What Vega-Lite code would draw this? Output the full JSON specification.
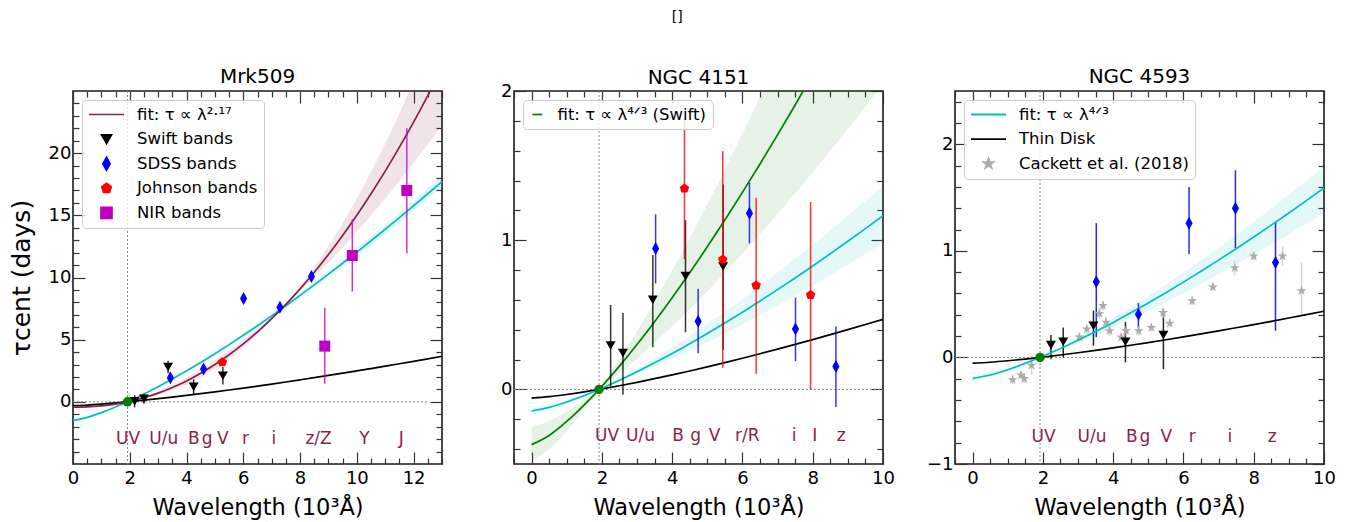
{
  "$schema": "https://vega.github.io/schema/vega-lite/v6.json",
  "title": {"text": "[]", "fontSize": 14, "offset": 29, "anchor": "middle", "dx": 5, "baseline": "bottom"},
  "padding": {"left": 8, "top": 9, "right": 5, "bottom": 5},
  "spacing": 72,
  "bounds": "flush",
  "resolve": {"scale": {"color": "independent", "fill": "independent", "stroke": "independent", "shape": "independent", "size": "independent"}, "legend": {"color": "independent", "fill": "independent", "stroke": "independent", "shape": "independent", "size": "independent"}},
  "config": {
    "font": "DejaVu Sans",
    "view": {"stroke": "#1a1a1a", "strokeWidth": 1.6},
    "axis": {"domain": false, "grid": false, "labelFont": "DejaVu Sans", "labelFontSize": 18, "labelColor": "#000000", "tickColor": "#333333", "tickWidth": 1.2, "labelOverlap": false, "labelFlush": false, "labelBound": false, "titleFont": "DejaVu Sans", "titleFontWeight": "normal", "titleColor": "#000000"},
    "title": {"font": "DejaVu Sans", "fontSize": 20, "fontWeight": "normal", "color": "#000000", "offset": 3, "baseline": "alphabetic"},
    "legend": {"orient": "top-left", "offset": 9, "padding": 6, "fillColor": "rgba(255,255,255,0.8)", "strokeColor": "#cccccc", "cornerRadius": 4, "labelFont": "DejaVu Sans", "labelFontSize": 16.5, "labelColor": "#000000", "labelLimit": 400, "rowPadding": 7.6, "labelOffset": 12, "clipHeight": 17, "symbolStrokeWidth": 1.8},
    "line": {"strokeWidth": 1.7, "interpolate": "monotone"},
    "area": {"interpolate": "monotone"}
  },
  "datasets": {
    "c1": [
      {"x":0,"m":-0.43,"m1":-0.46,"m2":-0.40,"c":-1.5,"c1":-1.46,"c2":-1.54,"t":-0.31},
      {"x":0.5,"m":-0.407,"m1":-0.437,"m2":-0.377,"c":-1.2506,"c1":-1.2172,"c2":-1.2839,"t":-0.2584},
      {"x":1,"m":-0.326,"m1":-0.356,"m2":-0.296,"c":-0.8714,"c1":-0.8481,"c2":-0.8946,"t":-0.1801},
      {"x":1.5,"m":-0.178,"m1":-0.198,"m2":-0.158,"c":-0.4208,"c1":-0.4095,"c2":-0.432,"t":-0.087},
      {"x":2,"m":0.04,"m1":0.02,"m2":0.06,"c":0.0839,"c1":0.0816,"c2":0.0861,"t":0.0173},
      {"x":2.5,"m":0.333,"m1":0.253,"m2":0.413,"c":0.6329,"c1":0.616,"c2":0.6497,"t":0.1308},
      {"x":3,"m":0.703,"m1":0.553,"m2":0.853,"c":1.22,"c1":1.1874,"c2":1.2525,"t":0.2521},
      {"x":3.5,"m":1.152,"m1":0.932,"m2":1.372,"c":1.8401,"c1":1.791,"c2":1.8891,"t":0.3803},
      {"x":4,"m":1.684,"m1":1.404,"m2":1.964,"c":2.4915,"c1":2.4251,"c2":2.5579,"t":0.5149},
      {"x":4.5,"m":2.301,"m1":1.981,"m2":2.621,"c":3.1701,"c1":3.0856,"c2":3.2546,"t":0.6552},
      {"x":5,"m":3.001,"m1":2.651,"m2":3.351,"c":3.8744,"c1":3.771,"c2":3.9777,"t":0.8007},
      {"x":5.5,"m":3.79,"m1":3.45,"m2":4.13,"c":4.6025,"c1":4.4797,"c2":4.7252,"t":0.9512},
      {"x":6,"m":4.667,"m1":4.367,"m2":4.967,"c":5.3531,"c1":5.2103,"c2":5.4958,"t":1.1063},
      {"x":6.5,"m":5.634,"m1":5.394,"m2":5.874,"c":6.1253,"c1":5.9619,"c2":6.2886,"t":1.2659},
      {"x":7,"m":6.693,"m1":6.553,"m2":6.833,"c":6.9176,"c1":6.7331,"c2":7.102,"t":1.4296},
      {"x":7.5,"m":7.843,"m1":7.793,"m2":7.893,"c":7.7291,"c1":7.5229,"c2":7.9352,"t":1.5973},
      {"x":8,"m":9.086,"m1":8.906,"m2":9.266,"c":8.5577,"c1":8.3294,"c2":8.7859,"t":1.7686},
      {"x":8.5,"m":10.42,"m1":10.02,"m2":10.82,"c":9.404,"c1":9.1532,"c2":9.6547,"t":1.9435},
      {"x":9,"m":11.855,"m1":11.185,"m2":12.525,"c":10.268,"c1":9.9943,"c2":10.542,"t":2.1221},
      {"x":9.5,"m":13.386,"m1":12.406,"m2":14.366,"c":11.148,"c1":10.851,"c2":11.445,"t":2.3039},
      {"x":10,"m":15.01,"m1":13.67,"m2":16.35,"c":12.043,"c1":11.722,"c2":12.364,"t":2.4889},
      {"x":10.5,"m":16.74,"m1":14.99,"m2":18.49,"c":12.954,"c1":12.609,"c2":13.299,"t":2.6772},
      {"x":11,"m":18.56,"m1":16.36,"m2":20.76,"c":13.878,"c1":13.508,"c2":14.248,"t":2.8681},
      {"x":11.5,"m":20.49,"m1":17.78,"m2":23.2,"c":14.819,"c1":14.423,"c2":15.214,"t":3.0625},
      {"x":12,"m":22.5,"m1":19.22,"m2":25.78,"c":15.77,"c1":15.349,"c2":16.19,"t":3.259},
      {"x":12.5,"m":24.62,"m1":20.72,"m2":28.52,"c":16.736,"c1":16.289,"c2":17.182,"t":3.4587},
      {"x":13,"m":26.85,"m1":22.27,"m2":31.43,"c":17.714,"c1":17.241,"c2":18.186,"t":3.6608}
    ],
    "c2": [
      {"x":0,"g":-0.37,"g1":-0.255,"g2":-0.48,"c":-0.145,"c1":-0.122,"c2":-0.17,"t":-0.0585},
      {"x":0.5,"g":-0.3085,"g1":-0.2126,"g2":-0.4002,"c":-0.1209,"c1":-0.1017,"c2":-0.1417,"t":-0.0488},
      {"x":1,"g":-0.2149,"g1":-0.1481,"g2":-0.2788,"c":-0.0842,"c1":-0.0709,"c2":-0.0988,"t":-0.034},
      {"x":1.5,"g":-0.1038,"g1":-0.0715,"g2":-0.1346,"c":-0.0407,"c1":-0.0342,"c2":-0.0477,"t":-0.0164},
      {"x":2,"g":0.0207,"g1":0.0143,"g2":0.0268,"c":0.0081,"c1":0.0068,"c2":0.0095,"t":0.0033},
      {"x":2.5,"g":0.1561,"g1":0.1076,"g2":0.2025,"c":0.0612,"c1":0.0515,"c2":0.0717,"t":0.0247},
      {"x":3,"g":0.3009,"g1":0.2074,"g2":0.3904,"c":0.1179,"c1":0.0992,"c2":0.1383,"t":0.0476},
      {"x":3.5,"g":0.4539,"g1":0.3128,"g2":0.5888,"c":0.1779,"c1":0.1497,"c2":0.2085,"t":0.0718},
      {"x":4,"g":0.6146,"g1":0.4236,"g2":0.7973,"c":0.2408,"c1":0.2026,"c2":0.2824,"t":0.0972},
      {"x":4.5,"g":0.782,"g1":0.5389,"g2":1.0144,"c":0.3064,"c1":0.2578,"c2":0.3593,"t":0.1236},
      {"x":5,"g":0.9557,"g1":0.6586,"g2":1.2398,"c":0.3745,"c1":0.3151,"c2":0.4391,"t":0.1511},
      {"x":5.5,"g":1.1353,"g1":0.7824,"g2":1.4728,"c":0.4449,"c1":0.3743,"c2":0.5216,"t":0.1795},
      {"x":6,"g":1.3204,"g1":0.91,"g2":1.713,"c":0.5175,"c1":0.4354,"c2":0.6067,"t":0.2088},
      {"x":6.5,"g":1.5109,"g1":1.0413,"g2":1.9601,"c":0.5921,"c1":0.4982,"c2":0.6942,"t":0.2389},
      {"x":7,"g":1.7063,"g1":1.176,"g2":2.2136,"c":0.6687,"c1":0.5626,"c2":0.784,"t":0.2698},
      {"x":7.5,"g":1.9065,"g1":1.3139,"g2":2.4733,"c":0.7471,"c1":0.6286,"c2":0.876,"t":0.3014},
      {"x":8,"g":2.1109,"g1":1.4548,"g2":2.7384,"c":0.8272,"c1":0.696,"c2":0.9699,"t":0.3337},
      {"x":8.5,"g":2.3196,"g1":1.5987,"g2":3.0093,"c":0.909,"c1":0.7649,"c2":1.0658,"t":0.3668},
      {"x":9,"g":2.5328,"g1":1.7456,"g2":3.2858,"c":0.9926,"c1":0.8351,"c2":1.1637,"t":0.4005},
      {"x":9.5,"g":2.7498,"g1":1.8952,"g2":3.5674,"c":1.0776,"c1":0.9067,"c2":1.2634,"t":0.4348},
      {"x":10,"g":2.9706,"g1":2.0473,"g2":3.8538,"c":1.1642,"c1":0.9795,"c2":1.3649,"t":0.4697}
    ],
    "c3": [
      {"x":0,"c":-0.198,"c1":-0.169,"c2":-0.223,"t":-0.054},
      {"x":0.5,"c":-0.1651,"c1":-0.1409,"c2":-0.1859,"t":-0.045},
      {"x":1,"c":-0.115,"c1":-0.0982,"c2":-0.1295,"t":-0.0314},
      {"x":1.5,"c":-0.0555,"c1":-0.0474,"c2":-0.0626,"t":-0.0151},
      {"x":2,"c":0.0111,"c1":0.0094,"c2":0.0125,"t":0.003},
      {"x":2.5,"c":0.0835,"c1":0.0713,"c2":0.0941,"t":0.0228},
      {"x":3,"c":0.161,"c1":0.1374,"c2":0.1814,"t":0.0439},
      {"x":3.5,"c":0.2429,"c1":0.2073,"c2":0.2736,"t":0.0662},
      {"x":4,"c":0.3289,"c1":0.2807,"c2":0.3704,"t":0.0897},
      {"x":4.5,"c":0.4185,"c1":0.3572,"c2":0.4713,"t":0.1141},
      {"x":5,"c":0.5114,"c1":0.4365,"c2":0.576,"t":0.1395},
      {"x":5.5,"c":0.6075,"c1":0.5185,"c2":0.6842,"t":0.1657},
      {"x":6,"c":0.7066,"c1":0.6031,"c2":0.7958,"t":0.1927},
      {"x":6.5,"c":0.8085,"c1":0.6901,"c2":0.9106,"t":0.2205},
      {"x":7,"c":0.9131,"c1":0.7794,"c2":1.0284,"t":0.249},
      {"x":7.5,"c":1.0202,"c1":0.8708,"c2":1.1491,"t":0.2782},
      {"x":8,"c":1.1296,"c1":0.9642,"c2":1.2722,"t":0.3081},
      {"x":8.5,"c":1.2413,"c1":1.0595,"c2":1.3981,"t":0.3385},
      {"x":9,"c":1.3554,"c1":1.1569,"c2":1.5265,"t":0.3697},
      {"x":9.5,"c":1.4715,"c1":1.256,"c2":1.6573,"t":0.4013},
      {"x":10,"c":1.5897,"c1":1.3569,"c2":1.7904,"t":0.4335}
    ],
    "p1": [
      {"x":1.92,"y":0,"s":"ref"},
      {"x":2.17,"y":0.05,"lo":-0.45,"hi":0.55,"s":"Swift bands"},
      {"x":2.5,"y":0.25,"lo":-0.15,"hi":0.65,"s":"Swift bands"},
      {"x":3.35,"y":2.8,"lo":2.3,"hi":3.3,"s":"Swift bands"},
      {"x":4.25,"y":1.2,"lo":0.6,"hi":1.8,"s":"Swift bands"},
      {"x":5.28,"y":2.1,"lo":1.4,"hi":2.8,"s":"Swift bands"},
      {"x":3.43,"y":1.93,"lo":1.6,"hi":2.26,"s":"SDSS bands"},
      {"x":4.6,"y":2.65,"lo":2.3,"hi":3.0,"s":"SDSS bands"},
      {"x":6.01,"y":8.31,"lo":7.95,"hi":8.67,"s":"SDSS bands"},
      {"x":7.29,"y":7.61,"lo":7.25,"hi":7.97,"s":"SDSS bands"},
      {"x":8.4,"y":10.08,"lo":9.7,"hi":10.46,"s":"SDSS bands"},
      {"x":5.26,"y":3.19,"lo":2.9,"hi":3.48,"s":"Johnson bands"},
      {"x":8.87,"y":4.48,"lo":1.45,"hi":7.56,"s":"NIR bands"},
      {"x":9.84,"y":11.77,"lo":8.87,"hi":14.66,"s":"NIR bands"},
      {"x":11.76,"y":17.0,"lo":11.96,"hi":22.01,"s":"NIR bands"}
    ],
    "p2": [
      {"x":1.92,"y":0,"s":"ref"},
      {"x":2.25,"y":0.294,"lo":0.02,"hi":0.566,"s":"Swift bands"},
      {"x":2.6,"y":0.243,"lo":-0.036,"hi":0.512,"s":"Swift bands"},
      {"x":3.45,"y":0.6,"lo":0.283,"hi":0.9,"s":"Swift bands"},
      {"x":4.38,"y":0.76,"lo":0.383,"hi":1.134,"s":"Swift bands"},
      {"x":5.45,"y":0.824,"lo":0.265,"hi":1.374,"s":"Swift bands"},
      {"x":3.53,"y":0.944,"lo":0.71,"hi":1.174,"s":"SDSS bands"},
      {"x":4.74,"y":0.457,"lo":0.243,"hi":0.673,"s":"SDSS bands"},
      {"x":6.2,"y":1.18,"lo":0.978,"hi":1.385,"s":"SDSS bands"},
      {"x":7.51,"y":0.405,"lo":0.19,"hi":0.615,"s":"SDSS bands"},
      {"x":8.66,"y":0.154,"lo":-0.118,"hi":0.421,"s":"SDSS bands"},
      {"x":4.35,"y":1.347,"lo":0.873,"hi":1.82,"s":"Johnson bands"},
      {"x":5.44,"y":0.871,"lo":0.145,"hi":1.597,"s":"Johnson bands"},
      {"x":6.39,"y":0.697,"lo":0.105,"hi":1.285,"s":"Johnson bands"},
      {"x":7.94,"y":0.633,"lo":0.0,"hi":1.256,"s":"Johnson bands"}
    ],
    "p3": [
      {"x":1.92,"y":0,"s":"ref"},
      {"x":2.23,"y":0.116,"lo":-0.016,"hi":0.21,"s":"Swift bands"},
      {"x":2.58,"y":0.147,"lo":0.0,"hi":0.28,"s":"Swift bands"},
      {"x":3.44,"y":0.297,"lo":0.11,"hi":0.44,"s":"Swift bands"},
      {"x":4.35,"y":0.147,"lo":-0.047,"hi":0.334,"s":"Swift bands"},
      {"x":5.43,"y":0.21,"lo":-0.11,"hi":0.453,"s":"Swift bands"},
      {"x":3.52,"y":0.71,"lo":0.19,"hi":1.26,"s":"SDSS bands"},
      {"x":4.72,"y":0.406,"lo":0.27,"hi":0.51,"s":"SDSS bands"},
      {"x":6.16,"y":1.26,"lo":0.97,"hi":1.6,"s":"SDSS bands"},
      {"x":7.48,"y":1.4,"lo":1.025,"hi":1.756,"s":"SDSS bands"},
      {"x":8.62,"y":0.89,"lo":0.25,"hi":1.275,"s":"SDSS bands"},
      {"x":1.14,"y":-0.21,"lo":-0.25,"hi":-0.17,"s":"Cackett et al. (2018)"},
      {"x":1.38,"y":-0.165,"lo":-0.2,"hi":-0.13,"s":"Cackett et al. (2018)"},
      {"x":1.47,"y":-0.2,"lo":-0.24,"hi":-0.16,"s":"Cackett et al. (2018)"},
      {"x":1.68,"y":-0.075,"lo":-0.165,"hi":0.015,"s":"Cackett et al. (2018)"},
      {"x":3.04,"y":0.19,"lo":0.15,"hi":0.23,"s":"Cackett et al. (2018)"},
      {"x":3.25,"y":0.266,"lo":0.22,"hi":0.31,"s":"Cackett et al. (2018)"},
      {"x":3.61,"y":0.41,"lo":0.36,"hi":0.46,"s":"Cackett et al. (2018)"},
      {"x":3.71,"y":0.485,"lo":0.44,"hi":0.53,"s":"Cackett et al. (2018)"},
      {"x":3.8,"y":0.33,"lo":0.28,"hi":0.38,"s":"Cackett et al. (2018)"},
      {"x":3.9,"y":0.25,"lo":0.2,"hi":0.3,"s":"Cackett et al. (2018)"},
      {"x":4.23,"y":0.19,"lo":0.15,"hi":0.23,"s":"Cackett et al. (2018)"},
      {"x":4.37,"y":0.25,"lo":0.21,"hi":0.29,"s":"Cackett et al. (2018)"},
      {"x":4.73,"y":0.25,"lo":0.21,"hi":0.29,"s":"Cackett et al. (2018)"},
      {"x":5.09,"y":0.28,"lo":0.24,"hi":0.32,"s":"Cackett et al. (2018)"},
      {"x":5.42,"y":0.42,"lo":0.37,"hi":0.47,"s":"Cackett et al. (2018)"},
      {"x":5.61,"y":0.32,"lo":0.28,"hi":0.36,"s":"Cackett et al. (2018)"},
      {"x":6.25,"y":0.53,"lo":0.49,"hi":0.57,"s":"Cackett et al. (2018)"},
      {"x":6.84,"y":0.66,"lo":0.62,"hi":0.7,"s":"Cackett et al. (2018)"},
      {"x":7.46,"y":0.84,"lo":0.77,"hi":0.91,"s":"Cackett et al. (2018)"},
      {"x":8.0,"y":0.95,"lo":0.91,"hi":0.99,"s":"Cackett et al. (2018)"},
      {"x":8.82,"y":0.95,"lo":0.86,"hi":1.04,"s":"Cackett et al. (2018)"},
      {"x":9.36,"y":0.625,"lo":0.39,"hi":0.89,"s":"Cackett et al. (2018)"}
    ],
    "l1": [
      {"x":1.94,"y":-3,"t":"UV"},{"x":3.2,"y":-3,"t":"U/u"},{"x":4.26,"y":-3,"t":"B"},{"x":4.73,"y":-3,"t":"g"},{"x":5.28,"y":-3,"t":"V"},{"x":6.08,"y":-3,"t":"r"},{"x":7.08,"y":-3,"t":"i"},{"x":8.65,"y":-3,"t":"z/Z"},{"x":10.27,"y":-3,"t":"Y"},{"x":11.56,"y":-3,"t":"J"}
    ],
    "l2": [
      {"x":2.15,"y":-0.314,"t":"UV"},{"x":3.1,"y":-0.314,"t":"U/u"},{"x":4.17,"y":-0.314,"t":"B"},{"x":4.67,"y":-0.314,"t":"g"},{"x":5.21,"y":-0.314,"t":"V"},{"x":6.14,"y":-0.314,"t":"r/R"},{"x":7.47,"y":-0.314,"t":"i"},{"x":8.06,"y":-0.314,"t":"I"},{"x":8.81,"y":-0.314,"t":"z"}
    ],
    "l3": [
      {"x":2.02,"y":-0.75,"t":"UV"},{"x":3.4,"y":-0.75,"t":"U/u"},{"x":4.53,"y":-0.75,"t":"B"},{"x":4.9,"y":-0.75,"t":"g"},{"x":5.51,"y":-0.75,"t":"V"},{"x":6.25,"y":-0.75,"t":"r"},{"x":7.32,"y":-0.75,"t":"i"},{"x":8.53,"y":-0.75,"t":"z"}
    ],
    "h1": [{"x":0,"x2":12.5,"y":0}],
    "h2": [{"x":-0.5,"x2":10,"y":0}],
    "v": [{"x":1.92}]
  },
  "hconcat": [
    {
      "width": 369, "height": 373,
      "title": {"text": "Mrk509", "offset": 3},
      "resolve": {"axis": {"x": "independent", "y": "independent"}},
      "layer": [
        {
          "data": {"name": "c1"},
          "mark": {"type": "area", "color": "#8b1e4b", "opacity": 0.12, "clip": true},
          "encoding": {
            "x": {"field": "x", "type": "quantitative", "scale": {"domain": [0, 13], "nice": false, "zero": false},
              "axis": {"orient": "bottom", "values": [0,0.5,1,1.5,2,2.5,3,3.5,4,4.5,5,5.5,6,6.5,7,7.5,8,8.5,9,9.5,10,10.5,11,11.5,12,12.5,13],
                "tickSize": {"condition": {"test": "abs(datum.value/2-round(datum.value/2))<1e-6", "value": -12}, "value": -6},
                "labelExpr": "abs(datum.value/2-round(datum.value/2))<1e-6 ? format(datum.value,'d') : ''",
                "labelPadding": 17, "title": "Wavelength (10³Å)", "titleFontSize": 22.5, "titlePadding": 3}},
            "y": {"field": "m1", "type": "quantitative", "scale": {"domain": [-5, 25], "nice": false, "zero": false},
              "axis": {"orient": "left", "values": [-4,-3,-2,-1,0,1,2,3,4,5,6,7,8,9,10,11,12,13,14,15,16,17,18,19,20,21,22,23,24],
                "tickSize": {"condition": {"test": "abs(datum.value/5-round(datum.value/5))<1e-6", "value": -12}, "value": -6},
                "labelExpr": "abs(datum.value/5-round(datum.value/5))<1e-6 ? format(datum.value,'d') : ''",
                "labelPadding": 14, "title": "τcent (days)", "titleFontSize": 25, "titlePadding": 14}},
            "y2": {"field": "m2"}
          }
        },
        {
          "data": {"name": "c1"},
          "mark": {"type": "area", "color": "#00bfbf", "opacity": 0.12, "clip": true},
          "encoding": {
            "x": {"field": "x", "type": "quantitative", "scale": {"domain": [0, 13], "nice": false, "zero": false}, "axis": null},
            "y": {"field": "c1", "type": "quantitative", "scale": {"domain": [-5, 25], "nice": false, "zero": false}, "axis": null},
            "y2": {"field": "c2"}
          }
        },
        {
          "data": {"name": "h1"},
          "mark": {"type": "rule", "color": "#888888", "strokeDash": [2, 2], "strokeWidth": 1},
          "encoding": {
            "x": {"field": "x", "type": "quantitative", "scale": {"domain": [0, 13], "nice": false, "zero": false},
              "axis": {"orient": "top", "labels": false, "title": null, "values": [0,0.5,1,1.5,2,2.5,3,3.5,4,4.5,5,5.5,6,6.5,7,7.5,8,8.5,9,9.5,10,10.5,11,11.5,12,12.5,13],
                "tickSize": {"condition": {"test": "abs(datum.value/2-round(datum.value/2))<1e-6", "value": -12}, "value": -6}}},
            "x2": {"field": "x2"},
            "y": {"field": "y", "type": "quantitative", "scale": {"domain": [-5, 25], "nice": false, "zero": false},
              "axis": {"orient": "right", "labels": false, "title": null, "values": [-4,-3,-2,-1,0,1,2,3,4,5,6,7,8,9,10,11,12,13,14,15,16,17,18,19,20,21,22,23,24],
                "tickSize": {"condition": {"test": "abs(datum.value/5-round(datum.value/5))<1e-6", "value": -12}, "value": -6}}}
          }
        },
        {
          "data": {"name": "v"},
          "mark": {"type": "rule", "color": "#888888", "strokeDash": [2, 2], "strokeWidth": 1},
          "encoding": {
            "x": {"field": "x", "type": "quantitative", "scale": {"domain": [0, 13], "nice": false, "zero": false}, "axis": null}
          }
        },
        {
          "data": {"name": "c1"},
          "mark": {"type": "line", "color": "#000000", "clip": true},
          "encoding": {
            "x": {"field": "x", "type": "quantitative", "scale": {"domain": [0, 13], "nice": false, "zero": false}, "axis": null},
            "y": {"field": "t", "type": "quantitative", "scale": {"domain": [-5, 25], "nice": false, "zero": false}, "axis": null}
          }
        },
        {
          "data": {"name": "c1"},
          "mark": {"type": "line", "color": "#00bfbf", "clip": true},
          "encoding": {
            "x": {"field": "x", "type": "quantitative", "scale": {"domain": [0, 13], "nice": false, "zero": false}, "axis": null},
            "y": {"field": "c", "type": "quantitative", "scale": {"domain": [-5, 25], "nice": false, "zero": false}, "axis": null}
          }
        },
        {
          "data": {"name": "c1"},
          "mark": {"type": "line", "clip": true},
          "encoding": {
            "x": {"field": "x", "type": "quantitative", "scale": {"domain": [0, 13], "nice": false, "zero": false}, "axis": null},
            "y": {"field": "m", "type": "quantitative", "scale": {"domain": [-5, 25], "nice": false, "zero": false}, "axis": null},
            "color": {"datum": "fit: τ ∝ λ²·¹⁷", "type": "nominal",
              "scale": {"domain": ["fit: τ ∝ λ²·¹⁷", "Swift bands", "SDSS bands", "Johnson bands", "NIR bands"], "range": ["#8b1e4b", "#000000", "#0000ff", "#ff0000", "#bf00bf"]},
              "legend": {"title": null}}
          }
        },
        {
          "data": {"name": "p1"},
          "transform": [{"filter": "datum.s !== 'ref'"}],
          "mark": {"type": "rule", "strokeWidth": 1.5, "opacity": 0.8},
          "encoding": {
            "x": {"field": "x", "type": "quantitative", "scale": {"domain": [0, 13], "nice": false, "zero": false}, "axis": null},
            "y": {"field": "lo", "type": "quantitative", "scale": {"domain": [-5, 25], "nice": false, "zero": false}, "axis": null},
            "y2": {"field": "hi"},
            "stroke": {"field": "s", "type": "nominal",
              "scale": {"domain": ["fit: τ ∝ λ²·¹⁷", "Swift bands", "SDSS bands", "Johnson bands", "NIR bands"], "range": ["#8b1e4b", "#000000", "#0000ff", "#ff0000", "#bf00bf"]},
              "legend": null}
          }
        },
        {
          "data": {"name": "p1"},
          "transform": [{"filter": "datum.s !== 'ref'"}],
          "mark": {"type": "point", "filled": true, "opacity": 1},
          "encoding": {
            "x": {"field": "x", "type": "quantitative", "scale": {"domain": [0, 13], "nice": false, "zero": false}, "axis": null},
            "y": {"field": "y", "type": "quantitative", "scale": {"domain": [-5, 25], "nice": false, "zero": false}, "axis": null},
            "fill": {"field": "s", "type": "nominal",
              "scale": {"domain": ["fit: τ ∝ λ²·¹⁷", "Swift bands", "SDSS bands", "Johnson bands", "NIR bands"], "range": ["#8b1e4b", "#000000", "#0000ff", "#ff0000", "#bf00bf"]},
              "legend": {"title": null}},
            "shape": {"field": "s", "type": "nominal",
              "scale": {"domain": ["fit: τ ∝ λ²·¹⁷", "Swift bands", "SDSS bands", "Johnson bands", "NIR bands"], "range": ["stroke", "triangle-down", "M0,-1L0.55,0L0,1L-0.55,0Z", "M0,-1L0.951,-0.309L0.588,0.809L-0.588,0.809L-0.951,-0.309Z", "square"]},
              "legend": {"title": null}},
            "size": {"field": "s", "type": "nominal",
              "scale": {"type": "ordinal", "domain": ["fit: τ ∝ λ²·¹⁷", "Swift bands", "SDSS bands", "Johnson bands", "NIR bands"], "range": [1225, 100, 169, 100, 121]},
              "legend": {"title": null}}
          }
        },
        {
          "data": {"name": "p1"},
          "transform": [{"filter": "datum.s === 'ref'"}],
          "mark": {"type": "point", "filled": true, "opacity": 1, "color": "#008000", "size": 90, "shape": "circle"},
          "encoding": {
            "x": {"field": "x", "type": "quantitative", "scale": {"domain": [0, 13], "nice": false, "zero": false}, "axis": null},
            "y": {"field": "y", "type": "quantitative", "scale": {"domain": [-5, 25], "nice": false, "zero": false}, "axis": null}
          }
        },
        {
          "data": {"name": "l1"},
          "mark": {"type": "text", "color": "#8b1e4b", "fontSize": 17, "align": "center", "baseline": "middle"},
          "encoding": {
            "x": {"field": "x", "type": "quantitative", "scale": {"domain": [0, 13], "nice": false, "zero": false}, "axis": null},
            "y": {"field": "y", "type": "quantitative", "scale": {"domain": [-5, 25], "nice": false, "zero": false}, "axis": null},
            "text": {"field": "t"}
          }
        }
      ]
    },
    {
      "width": 369, "height": 373,
      "title": {"text": "NGC 4151", "offset": -6},
      "resolve": {"axis": {"x": "independent", "y": "independent"}},
      "layer": [
        {
          "data": {"name": "c2"},
          "mark": {"type": "area", "color": "#008000", "opacity": 0.1, "clip": true},
          "encoding": {
            "x": {"field": "x", "type": "quantitative", "scale": {"domain": [-0.5, 10], "nice": false, "zero": false},
              "axis": {"orient": "bottom", "values": [-0.5,0,0.5,1,1.5,2,2.5,3,3.5,4,4.5,5,5.5,6,6.5,7,7.5,8,8.5,9,9.5,10],
                "tickSize": {"condition": {"test": "abs(datum.value/2-round(datum.value/2))<1e-6", "value": -12}, "value": -6},
                "labelExpr": "abs(datum.value/2-round(datum.value/2))<1e-6 ? format(datum.value,'d') : ''",
                "labelPadding": 17, "title": "Wavelength (10³Å)", "titleFontSize": 22.5, "titlePadding": 3}},
            "y": {"field": "g1", "type": "quantitative", "scale": {"domain": [-0.5, 2], "nice": false, "zero": false},
              "axis": {"orient": "left", "values": [-0.4,-0.2,0,0.2,0.4,0.6,0.8,1,1.2,1.4,1.6,1.8,2],
                "tickSize": {"condition": {"test": "abs(datum.value-round(datum.value))<1e-6", "value": -12}, "value": -6},
                "labelExpr": "abs(datum.value-round(datum.value))<1e-6 ? format(datum.value,'d') : ''",
                "labelPadding": 14, "title": null}},
            "y2": {"field": "g2"}
          }
        },
        {
          "data": {"name": "c2"},
          "mark": {"type": "area", "color": "#00bfbf", "opacity": 0.1, "clip": true},
          "encoding": {
            "x": {"field": "x", "type": "quantitative", "scale": {"domain": [-0.5, 10], "nice": false, "zero": false}, "axis": null},
            "y": {"field": "c1", "type": "quantitative", "scale": {"domain": [-0.5, 2], "nice": false, "zero": false}, "axis": null},
            "y2": {"field": "c2"}
          }
        },
        {
          "data": {"name": "h2"},
          "mark": {"type": "rule", "color": "#888888", "strokeDash": [2, 2], "strokeWidth": 1},
          "encoding": {
            "x": {"field": "x", "type": "quantitative", "scale": {"domain": [-0.5, 10], "nice": false, "zero": false},
              "axis": {"orient": "top", "labels": false, "title": null, "values": [-0.5,0,0.5,1,1.5,2,2.5,3,3.5,4,4.5,5,5.5,6,6.5,7,7.5,8,8.5,9,9.5,10],
                "tickSize": {"condition": {"test": "abs(datum.value/2-round(datum.value/2))<1e-6", "value": -12}, "value": -6}}},
            "x2": {"field": "x2"},
            "y": {"field": "y", "type": "quantitative", "scale": {"domain": [-0.5, 2], "nice": false, "zero": false},
              "axis": {"orient": "right", "labels": false, "title": null, "values": [-0.4,-0.2,0,0.2,0.4,0.6,0.8,1,1.2,1.4,1.6,1.8,2],
                "tickSize": {"condition": {"test": "abs(datum.value-round(datum.value))<1e-6", "value": -12}, "value": -6}}}
          }
        },
        {
          "data": {"name": "v"},
          "mark": {"type": "rule", "color": "#888888", "strokeDash": [2, 2], "strokeWidth": 1},
          "encoding": {
            "x": {"field": "x", "type": "quantitative", "scale": {"domain": [-0.5, 10], "nice": false, "zero": false}, "axis": null}
          }
        },
        {
          "data": {"name": "c2"},
          "mark": {"type": "line", "color": "#000000", "clip": true},
          "encoding": {
            "x": {"field": "x", "type": "quantitative", "scale": {"domain": [-0.5, 10], "nice": false, "zero": false}, "axis": null},
            "y": {"field": "t", "type": "quantitative", "scale": {"domain": [-0.5, 2], "nice": false, "zero": false}, "axis": null}
          }
        },
        {
          "data": {"name": "c2"},
          "mark": {"type": "line", "color": "#00bfbf", "clip": true},
          "encoding": {
            "x": {"field": "x", "type": "quantitative", "scale": {"domain": [-0.5, 10], "nice": false, "zero": false}, "axis": null},
            "y": {"field": "c", "type": "quantitative", "scale": {"domain": [-0.5, 2], "nice": false, "zero": false}, "axis": null}
          }
        },
        {
          "data": {"name": "c2"},
          "mark": {"type": "line", "clip": true},
          "encoding": {
            "x": {"field": "x", "type": "quantitative", "scale": {"domain": [-0.5, 10], "nice": false, "zero": false}, "axis": null},
            "y": {"field": "g", "type": "quantitative", "scale": {"domain": [-0.5, 2], "nice": false, "zero": false}, "axis": null},
            "color": {"datum": "fit: τ ∝ λ⁴ᐟ³ (Swift)", "type": "nominal",
              "scale": {"domain": ["fit: τ ∝ λ⁴ᐟ³ (Swift)"], "range": ["#008000"]},
              "legend": {"title": null}}
          }
        },
        {
          "data": {"name": "p2"},
          "transform": [{"filter": "datum.s !== 'ref'"}],
          "mark": {"type": "rule", "strokeWidth": 1.5, "opacity": 0.8},
          "encoding": {
            "x": {"field": "x", "type": "quantitative", "scale": {"domain": [-0.5, 10], "nice": false, "zero": false}, "axis": null},
            "y": {"field": "lo", "type": "quantitative", "scale": {"domain": [-0.5, 2], "nice": false, "zero": false}, "axis": null},
            "y2": {"field": "hi"},
            "stroke": {"field": "s", "type": "nominal",
              "scale": {"domain": ["Swift bands", "SDSS bands", "Johnson bands"], "range": ["#000000", "#0000ff", "#ff0000"]},
              "legend": null}
          }
        },
        {
          "data": {"name": "p2"},
          "transform": [{"filter": "datum.s !== 'ref'"}],
          "mark": {"type": "point", "filled": true, "opacity": 1},
          "encoding": {
            "x": {"field": "x", "type": "quantitative", "scale": {"domain": [-0.5, 10], "nice": false, "zero": false}, "axis": null},
            "y": {"field": "y", "type": "quantitative", "scale": {"domain": [-0.5, 2], "nice": false, "zero": false}, "axis": null},
            "fill": {"field": "s", "type": "nominal",
              "scale": {"domain": ["Swift bands", "SDSS bands", "Johnson bands"], "range": ["#000000", "#0000ff", "#ff0000"]},
              "legend": null},
            "shape": {"field": "s", "type": "nominal",
              "scale": {"domain": ["Swift bands", "SDSS bands", "Johnson bands"], "range": ["triangle-down", "M0,-1L0.55,0L0,1L-0.55,0Z", "M0,-1L0.951,-0.309L0.588,0.809L-0.588,0.809L-0.951,-0.309Z"]},
              "legend": null},
            "size": {"field": "s", "type": "nominal",
              "scale": {"type": "ordinal", "domain": ["Swift bands", "SDSS bands", "Johnson bands"], "range": [100, 169, 100]},
              "legend": null}
          }
        },
        {
          "data": {"name": "p2"},
          "transform": [{"filter": "datum.s === 'ref'"}],
          "mark": {"type": "point", "filled": true, "opacity": 1, "color": "#008000", "size": 90, "shape": "circle"},
          "encoding": {
            "x": {"field": "x", "type": "quantitative", "scale": {"domain": [-0.5, 10], "nice": false, "zero": false}, "axis": null},
            "y": {"field": "y", "type": "quantitative", "scale": {"domain": [-0.5, 2], "nice": false, "zero": false}, "axis": null}
          }
        },
        {
          "data": {"name": "l2"},
          "mark": {"type": "text", "color": "#8b1e4b", "fontSize": 17, "align": "center", "baseline": "middle"},
          "encoding": {
            "x": {"field": "x", "type": "quantitative", "scale": {"domain": [-0.5, 10], "nice": false, "zero": false}, "axis": null},
            "y": {"field": "y", "type": "quantitative", "scale": {"domain": [-0.5, 2], "nice": false, "zero": false}, "axis": null},
            "text": {"field": "t"}
          }
        }
      ]
    },
    {
      "width": 369, "height": 373,
      "title": {"text": "NGC 4593", "offset": 3},
      "resolve": {"axis": {"x": "independent", "y": "independent"}},
      "layer": [
        {
          "data": {"name": "c3"},
          "mark": {"type": "area", "color": "#00bfbf", "opacity": 0.1, "clip": true},
          "encoding": {
            "x": {"field": "x", "type": "quantitative", "scale": {"domain": [-0.5, 10], "nice": false, "zero": false},
              "axis": {"orient": "bottom", "values": [-0.5,0,0.5,1,1.5,2,2.5,3,3.5,4,4.5,5,5.5,6,6.5,7,7.5,8,8.5,9,9.5,10],
                "tickSize": {"condition": {"test": "abs(datum.value/2-round(datum.value/2))<1e-6", "value": -12}, "value": -6},
                "labelExpr": "abs(datum.value/2-round(datum.value/2))<1e-6 ? format(datum.value,'d') : ''",
                "labelPadding": 17, "title": "Wavelength (10³Å)", "titleFontSize": 22.5, "titlePadding": 3}},
            "y": {"field": "c1", "type": "quantitative", "scale": {"domain": [-1, 2.5], "nice": false, "zero": false},
              "axis": {"orient": "left", "values": [-1,-0.8,-0.6,-0.4,-0.2,0,0.2,0.4,0.6,0.8,1,1.2,1.4,1.6,1.8,2,2.2,2.4],
                "tickSize": {"condition": {"test": "abs(datum.value-round(datum.value))<1e-6", "value": -12}, "value": -6},
                "labelExpr": "abs(datum.value-round(datum.value))<1e-6 ? format(datum.value,'d') : ''",
                "labelPadding": 14, "title": null}},
            "y2": {"field": "c2"}
          }
        },
        {
          "data": {"name": "h2"},
          "mark": {"type": "rule", "color": "#888888", "strokeDash": [2, 2], "strokeWidth": 1},
          "encoding": {
            "x": {"field": "x", "type": "quantitative", "scale": {"domain": [-0.5, 10], "nice": false, "zero": false},
              "axis": {"orient": "top", "labels": false, "title": null, "values": [-0.5,0,0.5,1,1.5,2,2.5,3,3.5,4,4.5,5,5.5,6,6.5,7,7.5,8,8.5,9,9.5,10],
                "tickSize": {"condition": {"test": "abs(datum.value/2-round(datum.value/2))<1e-6", "value": -12}, "value": -6}}},
            "x2": {"field": "x2"},
            "y": {"field": "y", "type": "quantitative", "scale": {"domain": [-1, 2.5], "nice": false, "zero": false},
              "axis": {"orient": "right", "labels": false, "title": null, "values": [-1,-0.8,-0.6,-0.4,-0.2,0,0.2,0.4,0.6,0.8,1,1.2,1.4,1.6,1.8,2,2.2,2.4],
                "tickSize": {"condition": {"test": "abs(datum.value-round(datum.value))<1e-6", "value": -12}, "value": -6}}}
          }
        },
        {
          "data": {"name": "v"},
          "mark": {"type": "rule", "color": "#888888", "strokeDash": [2, 2], "strokeWidth": 1},
          "encoding": {
            "x": {"field": "x", "type": "quantitative", "scale": {"domain": [-0.5, 10], "nice": false, "zero": false}, "axis": null}
          }
        },
        {
          "data": {"name": "p3"},
          "transform": [{"filter": "datum.s !== 'ref'"}],
          "mark": {"type": "rule", "strokeWidth": 1.5, "opacity": 0.85},
          "encoding": {
            "x": {"field": "x", "type": "quantitative", "scale": {"domain": [-0.5, 10], "nice": false, "zero": false}, "axis": null},
            "y": {"field": "lo", "type": "quantitative", "scale": {"domain": [-1, 2.5], "nice": false, "zero": false}, "axis": null},
            "y2": {"field": "hi"},
            "stroke": {"field": "s", "type": "nominal",
              "scale": {"domain": ["Swift bands", "SDSS bands", "Cackett et al. (2018)"], "range": ["#000000", "#0000ff", "#cccccc"]},
              "legend": null}
          }
        },
        {
          "data": {"name": "p3"},
          "transform": [{"filter": "datum.s === 'Cackett et al. (2018)'"}],
          "mark": {"type": "point", "filled": true, "opacity": 1},
          "encoding": {
            "x": {"field": "x", "type": "quantitative", "scale": {"domain": [-0.5, 10], "nice": false, "zero": false}, "axis": null},
            "y": {"field": "y", "type": "quantitative", "scale": {"domain": [-1, 2.5], "nice": false, "zero": false}, "axis": null},
            "fill": {"field": "s", "type": "nominal",
              "scale": {"domain": ["fit: τ ∝ λ⁴ᐟ³", "Thin Disk", "Cackett et al. (2018)"], "range": ["#00bfbf", "#000000", "#ababab"]},
              "legend": {"title": null}},
            "shape": {"field": "s", "type": "nominal",
              "scale": {"domain": ["fit: τ ∝ λ⁴ᐟ³", "Thin Disk", "Cackett et al. (2018)"], "range": ["stroke", "stroke", "M0,-1L0.2245,-0.309L0.951,-0.309L0.363,0.118L0.588,0.809L0,0.382L-0.588,0.809L-0.363,0.118L-0.951,-0.309L-0.2245,-0.309Z"]},
              "legend": {"title": null}},
            "size": {"field": "s", "type": "nominal",
              "scale": {"type": "ordinal", "domain": ["fit: τ ∝ λ⁴ᐟ³", "Thin Disk", "Cackett et al. (2018)"], "range": [1225, 1225, 110]},
              "legend": {"title": null}}
          }
        },
        {
          "data": {"name": "c3"},
          "mark": {"type": "line", "clip": true},
          "encoding": {
            "x": {"field": "x", "type": "quantitative", "scale": {"domain": [-0.5, 10], "nice": false, "zero": false}, "axis": null},
            "y": {"field": "t", "type": "quantitative", "scale": {"domain": [-1, 2.5], "nice": false, "zero": false}, "axis": null},
            "color": {"datum": "Thin Disk", "type": "nominal",
              "scale": {"domain": ["fit: τ ∝ λ⁴ᐟ³", "Thin Disk", "Cackett et al. (2018)"], "range": ["#00bfbf", "#000000", "#ababab"]},
              "legend": {"title": null}}
          }
        },
        {
          "data": {"name": "c3"},
          "mark": {"type": "line", "clip": true},
          "encoding": {
            "x": {"field": "x", "type": "quantitative", "scale": {"domain": [-0.5, 10], "nice": false, "zero": false}, "axis": null},
            "y": {"field": "c", "type": "quantitative", "scale": {"domain": [-1, 2.5], "nice": false, "zero": false}, "axis": null},
            "color": {"datum": "fit: τ ∝ λ⁴ᐟ³", "type": "nominal",
              "scale": {"domain": ["fit: τ ∝ λ⁴ᐟ³", "Thin Disk", "Cackett et al. (2018)"], "range": ["#00bfbf", "#000000", "#ababab"]},
              "legend": {"title": null}}
          }
        },
        {
          "data": {"name": "p3"},
          "transform": [{"filter": "datum.s === 'Swift bands'"}],
          "mark": {"type": "point", "filled": true, "opacity": 1, "color": "#000000", "size": 100, "shape": "triangle-down"},
          "encoding": {
            "x": {"field": "x", "type": "quantitative", "scale": {"domain": [-0.5, 10], "nice": false, "zero": false}, "axis": null},
            "y": {"field": "y", "type": "quantitative", "scale": {"domain": [-1, 2.5], "nice": false, "zero": false}, "axis": null}
          }
        },
        {
          "data": {"name": "p3"},
          "transform": [{"filter": "datum.s === 'SDSS bands'"}],
          "mark": {"type": "point", "filled": true, "opacity": 1, "color": "#0000ff", "size": 169, "shape": "M0,-1L0.55,0L0,1L-0.55,0Z"},
          "encoding": {
            "x": {"field": "x", "type": "quantitative", "scale": {"domain": [-0.5, 10], "nice": false, "zero": false}, "axis": null},
            "y": {"field": "y", "type": "quantitative", "scale": {"domain": [-1, 2.5], "nice": false, "zero": false}, "axis": null}
          }
        },
        {
          "data": {"name": "p3"},
          "transform": [{"filter": "datum.s === 'ref'"}],
          "mark": {"type": "point", "filled": true, "opacity": 1, "color": "#008000", "size": 90, "shape": "circle"},
          "encoding": {
            "x": {"field": "x", "type": "quantitative", "scale": {"domain": [-0.5, 10], "nice": false, "zero": false}, "axis": null},
            "y": {"field": "y", "type": "quantitative", "scale": {"domain": [-1, 2.5], "nice": false, "zero": false}, "axis": null}
          }
        },
        {
          "data": {"name": "l3"},
          "mark": {"type": "text", "color": "#8b1e4b", "fontSize": 17, "align": "center", "baseline": "middle"},
          "encoding": {
            "x": {"field": "x", "type": "quantitative", "scale": {"domain": [-0.5, 10], "nice": false, "zero": false}, "axis": null},
            "y": {"field": "y", "type": "quantitative", "scale": {"domain": [-1, 2.5], "nice": false, "zero": false}, "axis": null},
            "text": {"field": "t"}
          }
        }
      ]
    }
  ]
}
